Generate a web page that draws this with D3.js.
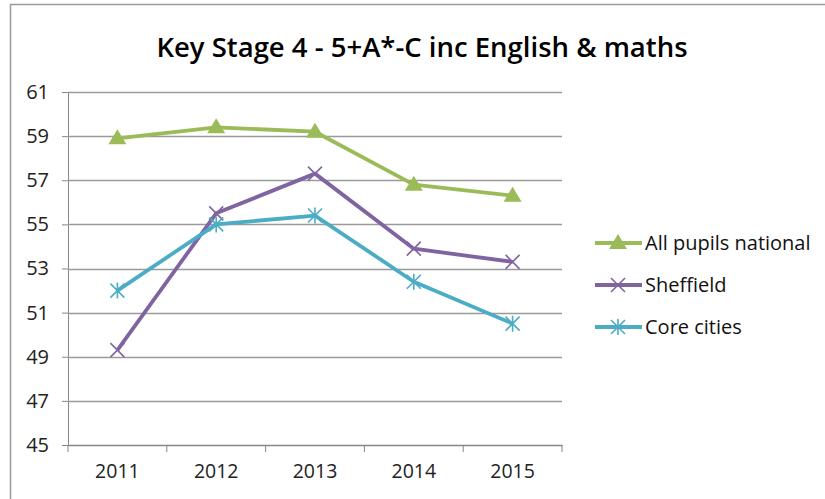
<!DOCTYPE html>
<html><head><meta charset="utf-8">
<script src="https://cdn.jsdelivr.net/npm/d3@7/dist/d3.min.js"></script>
<style>body{margin:0;background:#fff}svg{display:block}</style>
</head><body>
<svg id="c" width="825" height="499"></svg>
<script>
const years = ["2011","2012","2013","2014","2015"];
const allPupils = [58.9, 59.4, 59.2, 56.8, 56.3];
const sheffield = [49.3, 55.5, 57.3, 53.9, 53.3];
const coreCities = [52.0, 55.0, 55.4, 52.4, 50.5];
const yTicks = [45,47,49,51,53,55,57,59,61];
const seriesNames = ["All pupils national","Sheffield","Core cities"];

const series = [
  {name: seriesNames[0], values: allPupils, color: "#9BBB59", marker: "tri"},
  {name: seriesNames[1], values: sheffield, color: "#8064A2", marker: "x"},
  {name: seriesNames[2], values: coreCities, color: "#4BACC6", marker: "star"}
];

const svg = d3.select("#c");
const font = "Open Sans, Noto Sans, sans-serif";
svg.append("rect").attr("x",10.5).attr("y",4.5).attr("width",830).attr("height",510)
  .attr("fill","#fff").attr("stroke","#9a9a9a").attr("stroke-width",1.5);

const pL=68, pR=562, pT=92, pB=445;
const x = d3.scaleBand().domain(years).range([pL,pR]);
const y = d3.scaleLinear().domain([45,61]).range([pB,pT]);

svg.append("text").attr("x",422).attr("y",57).attr("text-anchor","middle")
  .attr("font-family",font).attr("font-weight","600").attr("font-size",27.5)
  .attr("fill","#000").text("Key Stage 4 - 5+A*-C inc English & maths");

const gy = svg.append("g").attr("transform",`translate(${pL},0)`)
  .call(d3.axisLeft(y).tickValues(yTicks).tickSize(6).tickPadding(13).tickFormat(d3.format("d")));
gy.attr("font-size",20).attr("font-family",font);
gy.select(".domain").attr("stroke","#868686");
gy.selectAll(".tick line").attr("stroke","#868686");
gy.selectAll(".tick text").attr("fill","#222");
svg.append("g").selectAll("line").data(yTicks.filter(d=>d>45)).join("line")
  .attr("x1",pL).attr("x2",pR).attr("y1",d=>Math.round(y(d))+0.5).attr("y2",d=>Math.round(y(d))+0.5)
  .attr("stroke","#9a9a9a").attr("stroke-width",1.3);

const gx = svg.append("g").attr("transform",`translate(0,${pB})`)
  .call(d3.axisBottom(x).tickSize(0).tickPadding(19));
gx.attr("font-size",19.5).attr("font-family",font);
gx.select(".domain").attr("stroke","#868686").attr("stroke-width",1.3);
gx.selectAll(".tick text").attr("fill","#222");
const bounds = years.map(d=>x(d)).concat([x(years[years.length-1])+x.bandwidth()]);
svg.append("g").selectAll("line").data(bounds).join("line")
  .attr("x1",d=>d).attr("x2",d=>d).attr("y1",pB).attr("y2",pB+7)
  .attr("stroke","#868686");

function drawMarker(g, type, cx, cy, color){
  if(type==="tri"){
    g.append("path").attr("d",`M${cx},${cy-9}L${cx+9},${cy+6}L${cx-9},${cy+6}Z`).attr("fill",color);
  } else if(type==="x"){
    g.append("path").attr("d",`M${cx-7},${cy-7}L${cx+7},${cy+7}M${cx-7},${cy+7}L${cx+7},${cy-7}`)
      .attr("stroke",color).attr("stroke-width",1.6).attr("fill","none");
  } else {
    g.append("path").attr("d",`M${cx-7},${cy-7}L${cx+7},${cy+7}M${cx-7},${cy+7}L${cx+7},${cy-7}M${cx},${cy-8}L${cx},${cy+8}`)
      .attr("stroke",color).attr("stroke-width",1.6).attr("fill","none");
  }
}

const line = d3.line().x((d,i)=>x(years[i])+x.bandwidth()/2).y(d=>y(d));
series.forEach(s=>{
  const g = svg.append("g");
  g.append("path").attr("d",line(s.values)).attr("fill","none").attr("stroke",s.color)
    .attr("stroke-width",3.8).attr("stroke-linejoin","round");
  s.values.forEach((v,i)=>drawMarker(g,s.marker,x(years[i])+x.bandwidth()/2,y(v),s.color));
});

const leg = svg.append("g");
series.forEach((s,i)=>{
  const ly = 243 + i*42;
  const g = leg.append("g");
  g.append("line").attr("x1",595).attr("x2",642).attr("y1",ly).attr("y2",ly)
    .attr("stroke",s.color).attr("stroke-width",3.8);
  drawMarker(g,s.marker,618,ly,s.color);
  g.append("text").attr("x",645).attr("y",ly+7).attr("font-family",font).attr("font-size",20)
    .attr("fill","#111").text(s.name);
});
</script>
</body></html>
